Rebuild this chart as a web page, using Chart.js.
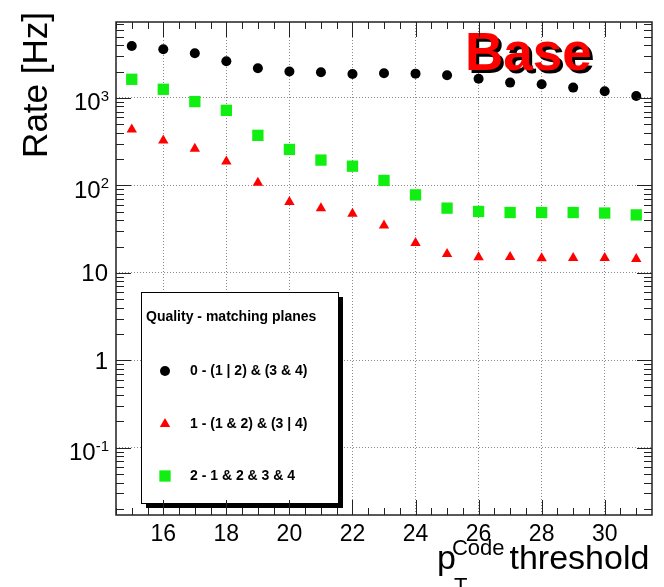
<!DOCTYPE html>
<html>
<head>
<meta charset="utf-8">
<title>Rate vs pT code threshold</title>
<script src="https://cdn.jsdelivr.net/npm/chart.js@4.4.1/dist/chart.umd.min.js"></script>
<style>
  html, body { margin: 0; padding: 0; background: #fff; }
  canvas { display: block; }
</style>
</head>
<body>
<canvas id="rate" width="664" height="587"></canvas>
<script>
// pT code thresholds and trigger rates [Hz] per quality
const thresholds = [15, 16, 17, 18, 19, 20, 21, 22, 23, 24, 25, 26, 27, 28, 29, 30, 31];
const rateQ0 = [3940, 3610, 3250, 2630, 2190, 2005, 1970, 1885, 1920, 1900, 1820, 1660, 1500, 1435, 1315, 1193, 1055];
const rateQ1 = [437, 327, 263, 188, 107, 64.6, 55, 47.4, 34.8, 21.9, 16.4, 15.1, 15.2, 14.7, 14.8, 14.8, 14.4];
const rateQ2 = [1637, 1258, 910, 722, 374, 258, 195, 166, 114, 78, 55, 50.4, 49, 49, 49, 48.3, 46];

const seriesLabels = ['0 - (1 | 2) & (3 & 4)', '1 - (1 & 2) & (3 | 4)', '2 - 1 & 2 & 3 & 4'];
const legendTitle = 'Quality - matching planes';
const tagText = 'Base';

const xTicks = [16, 18, 20, 22, 24, 26, 28, 30];
const yTicks = [0.1, 1, 10, 100, 1000];
// mantissa + exponent for each decade label
const yTickLabels = [['10', '-1'], ['1', ''], ['10', ''], ['10', '2'], ['10', '3']];

const FONT = '"Liberation Sans", Arial, Helvetica, sans-serif';

function line(ctx, x1, y1, x2, y2) {
  ctx.beginPath(); ctx.moveTo(x1, y1); ctx.lineTo(x2, y2); ctx.stroke();
}

// ROOT-like frame: inward ticks on all sides, axis titles, legend box, tag
const rootFrame = {
  id: 'rootFrame',
  afterDatasetsDraw(chart) {
    const ctx = chart.ctx;
    ctx.save();
    ctx.font = 'bold 53px ' + FONT;
    ctx.textAlign = 'left';
    ctx.textBaseline = 'alphabetic';
    ctx.shadowColor = '#000';
    ctx.shadowOffsetX = 3;
    ctx.shadowOffsetY = 3;
    ctx.shadowBlur = 0;
    ctx.fillStyle = '#ff0000';
    ctx.fillText(tagText, 465, 70);
    ctx.restore();
  },
  afterDraw(chart) {
    const ctx = chart.ctx;
    const ca = chart.chartArea;
    const xs = chart.scales.x, ys = chart.scales.y;
    ctx.save();

    // legend
    const lx = 141, ly = 292, lw = 197, lh = 211;
    ctx.fillStyle = '#000';
    ctx.fillRect(lx + 5, ly + 5, lw, lh);
    ctx.fillStyle = '#fff';
    ctx.fillRect(lx, ly, lw, lh);
    ctx.strokeStyle = '#000';
    ctx.lineWidth = 1;
    ctx.strokeRect(lx + 0.5, ly + 0.5, lw, lh);
    ctx.fillStyle = '#000';
    ctx.font = 'bold 14px ' + FONT;
    ctx.textAlign = 'left';
    ctx.textBaseline = 'middle';
    ctx.fillText(legendTitle, 146, 317);
    const rowY = [371, 424, 476];
    chart.data.datasets.forEach((ds, i) => {
      ctx.fillStyle = ds.backgroundColor;
      ctx.strokeStyle = ds.borderColor;
      Chart.helpers.drawPoint(ctx, { pointStyle: ds.pointStyle, radius: ds.pointRadius, rotation: 0, borderWidth: 0 }, 165, rowY[i]);
      ctx.fillStyle = '#000';
      ctx.fillText(ds.label, 190, rowY[i]);
    });

    // frame
    ctx.strokeStyle = '#222';
    ctx.lineWidth = 1.5;
    ctx.strokeRect(ca.left, ca.top, ca.right - ca.left, ca.bottom - ca.top);

    // x ticks every 0.5, long ones on labelled values
    ctx.lineWidth = 1;
    for (let v = Math.ceil(xs.min * 2) / 2; v < xs.max; v += 0.5) {
      const px = Math.round(xs.getPixelForValue(v)) + 0.5;
      const len = xTicks.includes(v) ? 15 : 7;
      line(ctx, px, ca.bottom, px, ca.bottom - len);
      line(ctx, px, ca.top, px, ca.top + len);
    }
    // y ticks: decades long, 2..9 short
    for (let e = -2; e <= 3; e++) {
      for (let k = 1; k <= 9; k++) {
        const v = k * Math.pow(10, e);
        if (v < ys.min || v > ys.max) continue;
        const py = Math.round(ys.getPixelForValue(v)) + 0.5;
        const len = k === 1 ? 15 : 8;
        line(ctx, ca.left, py, ca.left + len, py);
        line(ctx, ca.right, py, ca.right - len, py);
      }
    }

    // y tick labels with exponents
    ctx.fillStyle = '#000';
    ctx.textAlign = 'right';
    ctx.textBaseline = 'alphabetic';
    yTicks.forEach((v, i) => {
      const py = ys.getPixelForValue(v);
      const [base, exp] = yTickLabels[i];
      if (exp) {
        ctx.font = '15px ' + FONT;
        const ew = ctx.measureText(exp).width;
        ctx.fillText(exp, 109, py + 3);
        ctx.font = '24px ' + FONT;
        ctx.fillText(base, 109 - ew, py + 12.5);
      } else {
        ctx.font = '24px ' + FONT;
        ctx.fillText(base, 108, py + 8.5);
      }
    });

    // y title
    ctx.save();
    ctx.translate(47, 12);
    ctx.rotate(-Math.PI / 2);
    ctx.font = '35px ' + FONT;
    ctx.textAlign = 'right';
    ctx.fillText('Rate [Hz]', 0, 0);
    ctx.restore();

    // x title: p_T^Code threshold
    ctx.textAlign = 'left';
    ctx.font = '34px ' + FONT;
    let x = 437;
    ctx.fillText('p', x, 569);
    x += ctx.measureText('p').width - 4;
    ctx.font = '22px ' + FONT;
    ctx.fillText('Code', x, 555);
    const cw = ctx.measureText('Code').width;
    ctx.fillText('T', x + 2, 593);
    ctx.font = '34px ' + FONT;
    ctx.fillText('threshold', x + cw + 5, 569);

    ctx.restore();
  }
};

const gridOpts = { color: '#8a8a8a', lineWidth: 1, drawTicks: false };

new Chart(document.getElementById('rate'), {
  type: 'scatter',
  data: {
    datasets: [
      { label: seriesLabels[0], data: thresholds.map((t, i) => ({ x: t, y: rateQ0[i] })),
        pointStyle: 'circle', pointRadius: 5, backgroundColor: '#000', borderColor: '#000', borderWidth: 0 },
      { label: seriesLabels[1], data: thresholds.map((t, i) => ({ x: t, y: rateQ1[i] })),
        pointStyle: 'triangle', pointRadius: 6, backgroundColor: '#ff0000', borderColor: '#ff0000', borderWidth: 0 },
      { label: seriesLabels[2], data: thresholds.map((t, i) => ({ x: t, y: rateQ2[i] })),
        pointStyle: 'rect', pointRadius: 8, backgroundColor: '#11ee11', borderColor: '#11ee11', borderWidth: 0 }
    ]
  },
  options: {
    responsive: false,
    animation: false,
    devicePixelRatio: 1,
    layout: { padding: { top: 22, right: 12, left: 0, bottom: 0 } },
    plugins: { legend: { display: false }, tooltip: { enabled: false } },
    scales: {
      x: {
        type: 'linear', min: 14.5, max: 31.5,
        afterBuildTicks: s => { s.ticks = xTicks.map(v => ({ value: v })); },
        afterFit: s => { s.height = 72; },
        ticks: { font: { family: FONT, size: 23 }, color: '#000', padding: 6, maxRotation: 0, autoSkip: false },
        grid: gridOpts,
        border: { display: false, dash: [1, 2] }
      },
      y: {
        type: 'logarithmic', min: 0.017, max: 7400,
        afterBuildTicks: s => { s.ticks = yTicks.map(v => ({ value: v })); },
        afterFit: s => { s.width = 116; },
        ticks: { display: false },
        grid: gridOpts,
        border: { display: false, dash: [1, 2] }
      }
    }
  },
  plugins: [rootFrame]
});
</script>
</body>
</html>
